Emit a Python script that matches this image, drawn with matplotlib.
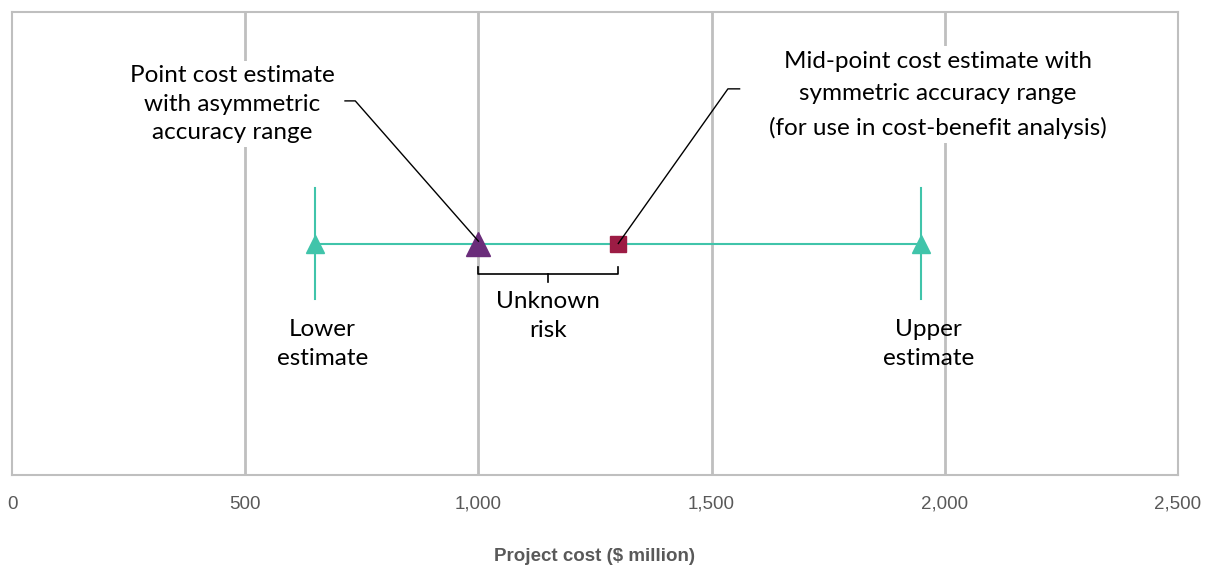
import matplotlib
matplotlib.use("Agg")
import matplotlib.pyplot as plt

# Data
estimate_labels = ["Lower estimate", "Point estimate", "Mid-point estimate", "Upper estimate"]
lower_estimate = 650
point_estimate = 1000
mid_point_estimate = 1300
upper_estimate = 1950
x_ticks = [0, 500, 1000, 1500, 2000, 2500]
x_tick_labels = ["0", "500", "1,000", "1,500", "2,000", "2,500"]
x_label = "Project cost ($ million)"

TEAL = "#40C4AA"
PURPLE = "#6A2C7A"
CRIMSON = "#9C1C44"
GRID = "#BFBFBF"
TEXTGRAY = "#595959"
ANN_FONT = ["Lato", "DejaVu Sans"]
FS = 17.5
LS = 1.45

fig = plt.figure(figsize=(12.11, 5.71), dpi=100)
ax = fig.add_axes([12/1211, (571-475)/571, 1166/1211, 463/571])
ax.set_xlim(0, 2500)
ax.set_ylim(0, 1)
y0 = 0.5

for s in ax.spines.values():
    s.set_color(GRID)
    s.set_linewidth(1.5)
ax.set_yticks([])
ax.set_xticks(x_ticks)
ax.set_xticklabels(x_tick_labels, fontsize=13.5, color=TEXTGRAY, family="Liberation Sans")
ax.tick_params(axis="x", length=0, pad=15)
for xv in x_ticks[1:-1]:
    ax.axvline(xv, color=GRID, lw=2, zorder=0)
ax.set_xlabel(x_label, fontsize=13.5, fontweight="bold", color=TEXTGRAY,
              family="Liberation Sans", labelpad=25)

# horizontal range line
ax.plot([lower_estimate, upper_estimate], [y0, y0], color=TEAL, lw=1.5, zorder=2)
# vertical whiskers
ax.plot([lower_estimate, lower_estimate], [y0 - 0.12, y0 + 0.12], color=TEAL, lw=1.5, zorder=2)
ax.plot([upper_estimate, upper_estimate], [y0 - 0.12, y0 + 0.12], color=TEAL, lw=1.5, zorder=2)
ax.plot([lower_estimate, upper_estimate], [y0, y0], ls="none", marker="^", ms=13,
        color=TEAL, zorder=3)
ax.plot([point_estimate], [y0], ls="none", marker="^", ms=17, color=PURPLE, zorder=4)
ax.plot([mid_point_estimate], [y0], ls="none", marker="s", ms=11, color=CRIMSON, zorder=4)

# bracket for unknown risk
bt, bb, bm = 0.449, 0.434, 0.417
mid = (point_estimate + mid_point_estimate) / 2
ax.plot([point_estimate, point_estimate, mid_point_estimate, mid_point_estimate],
        [bt, bb, bb, bt], color="black", lw=1.2, zorder=3)
ax.plot([mid, mid], [bb, bm], color="black", lw=1.2, zorder=3)

ax.text(mid, 0.343, "Unknown\nrisk", ha="center", va="center", fontsize=FS,
        family=ANN_FONT, linespacing=LS, zorder=5)
ax.text(665, 0.283, "Lower\nestimate", ha="center", va="center", fontsize=FS,
        family=ANN_FONT, linespacing=LS, zorder=5)
ax.text(1965, 0.283, "Upper\nestimate", ha="center", va="center", fontsize=FS,
        family=ANN_FONT, linespacing=LS, zorder=5)

ax.text(472, 0.801, "Point cost estimate\nwith asymmetric\naccuracy range", ha="center",
        va="center", fontsize=FS, family=ANN_FONT, linespacing=LS, zorder=5,
        bbox=dict(facecolor="white", edgecolor="none", pad=3))
ax.text(1985, 0.821, "Mid-point cost estimate with\nsymmetric accuracy range\n(for use in cost-benefit analysis)",
        ha="center", va="center", fontsize=FS, family=ANN_FONT, linespacing=1.7, zorder=5,
        bbox=dict(facecolor="white", edgecolor="none", pad=3))

# leader lines
ax.plot([714, 736, point_estimate], [0.808, 0.808, y0 + 0.005], color="black", lw=1.0, zorder=5)
ax.plot([1560, 1535, mid_point_estimate], [0.834, 0.834, y0], color="black", lw=1.0, zorder=5)

fig.savefig("out.png", dpi=100)
